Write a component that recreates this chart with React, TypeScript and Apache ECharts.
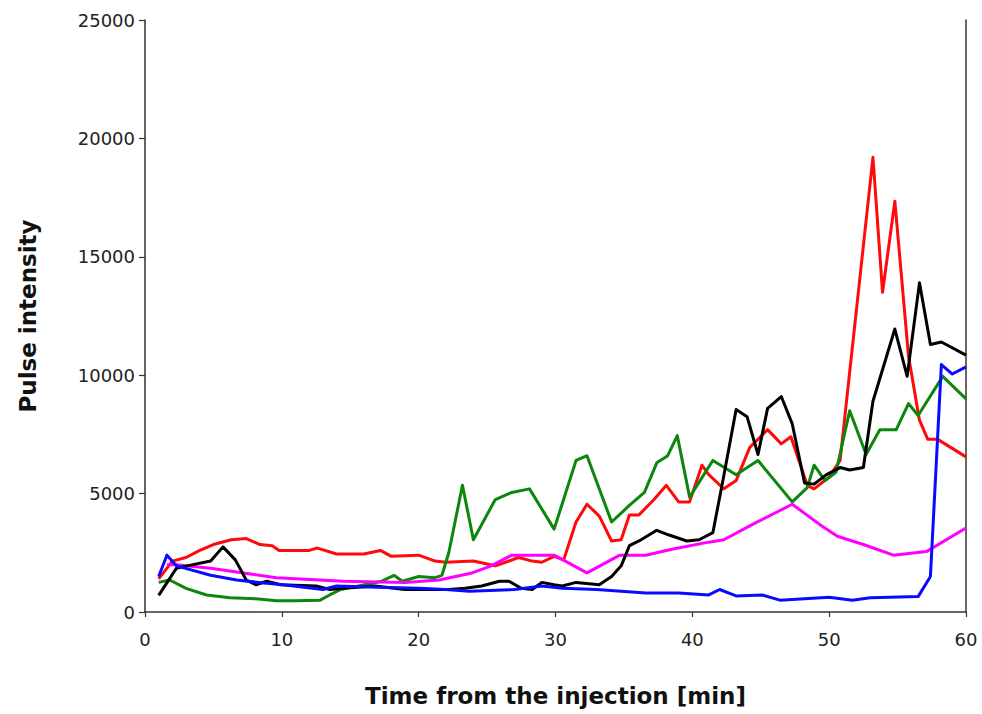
import React, { useEffect, useRef } from "react";
import * as echarts from "echarts";

const xTicks = [0, 10, 20, 30, 40, 50, 60];
const yTicks = [0, 5000, 10000, 15000, 20000, 25000];

const redSeries: [number, number][] = [
  [1, 1400], [2, 2150], [3, 2300], [4, 2600], [5, 2850], [6.3, 3050], [7.4, 3100], [8.4, 2850],
  [9.3, 2800], [9.8, 2600], [12, 2600], [12.6, 2700], [14, 2450], [16, 2450], [17.2, 2600],
  [18, 2350], [20, 2400], [21.2, 2150], [22, 2100], [24, 2150], [25.6, 1950], [27.3, 2300],
  [28.3, 2150], [29, 2100], [29.9, 2350], [30.6, 2200], [31.5, 3800], [32.3, 4550], [33.2, 4050],
  [34.1, 3000], [34.8, 3050], [35.4, 4100], [36.1, 4100], [37.2, 4750], [38.1, 5350], [39, 4650],
  [39.8, 4650], [40.7, 6200], [41.2, 5800], [42.3, 5200], [43.2, 5550], [44.2, 6950], [45.5, 7700],
  [46.5, 7100], [47.2, 7400], [48.4, 5350], [48.9, 5200], [50, 5700], [50.8, 6400], [53.2, 19200],
  [53.9, 13500], [54.8, 17350], [55.8, 10800], [56.6, 8100], [57.2, 7300], [57.9, 7300], [60, 6550],
];

const blackSeries: [number, number][] = [
  [1, 700], [2.3, 1850], [3.5, 2000], [4.8, 2150], [5.7, 2750], [6.6, 2200], [7.4, 1350], [8.1, 1150],
  [8.9, 1300], [9.9, 1150], [12.5, 1100], [13.5, 950], [14.5, 1000], [16.8, 1100], [19, 950],
  [22.2, 950], [23.4, 1000], [24.6, 1100], [25.9, 1300], [26.6, 1300], [27.5, 1000], [28.3, 950],
  [29, 1250], [29.9, 1150], [30.5, 1100], [31.5, 1250], [33.2, 1150], [34.1, 1500], [34.8, 1950],
  [35.4, 2800], [36.1, 3000], [37.4, 3450], [38.3, 3250], [39.6, 3000], [40.5, 3050], [41.5, 3350],
  [42.3, 5750], [43.2, 8550], [44, 8250], [44.8, 6650], [45.5, 8600], [46.5, 9100], [47.3, 7950],
  [48.2, 5450], [48.9, 5400], [49.8, 5800], [50.8, 6100], [51.5, 6000], [52.5, 6100], [53.2, 8900],
  [54.8, 11950], [55.7, 9950], [56.6, 13900], [57.4, 11300], [58.2, 11400], [60, 10850],
];

const greenSeries: [number, number][] = [
  [1, 1250], [1.8, 1350], [3, 1000], [4.5, 720], [6.2, 600], [8.3, 550], [9.6, 480], [11, 470],
  [12.8, 500], [13.5, 720], [14.3, 950], [15.6, 1100], [17.3, 1300], [18.2, 1550], [18.8, 1300],
  [20, 1500], [21.2, 1450], [21.7, 1550], [22.2, 2500], [23.2, 5350], [24, 3050], [25.6, 4750],
  [26.8, 5050], [28.1, 5200], [29.9, 3500], [31.5, 6400], [32.3, 6600], [34.1, 3800], [35.4, 4500],
  [36.5, 5050], [37.4, 6300], [38.2, 6600], [38.9, 7450], [39.8, 4850], [41.5, 6400], [43.2, 5800],
  [44.8, 6400], [47.3, 4650], [48.4, 5250], [48.9, 6200], [49.7, 5550], [50.5, 5900], [51.5, 8500],
  [52.7, 6650], [53.7, 7700], [54.9, 7700], [55.8, 8800], [56.5, 8300], [58.3, 9950], [60, 9000],
];

const blueSeries: [number, number][] = [
  [1, 1500], [1.6, 2400], [2.3, 1950], [4.8, 1550], [6.7, 1350], [8.3, 1250], [10.1, 1150], [13, 950],
  [14, 1100], [17, 1050], [20, 1000], [22, 950], [23.7, 880], [27, 950], [29, 1100], [30.5, 1000],
  [33, 950], [36.6, 800], [39, 800], [41.2, 720], [42, 950], [43.2, 680], [45.1, 720], [46.4, 500],
  [50, 620], [51.7, 500], [53, 600], [56.5, 650], [57.4, 1500], [58.2, 10450], [59, 10050], [60, 10350],
];

const magentaSeries: [number, number][] = [
  [1.6, 2000], [2.3, 2000], [4.8, 1850], [7.2, 1650], [9.6, 1450], [14.5, 1300], [19, 1250],
  [21.5, 1350], [23.9, 1650], [25.3, 1950], [26.8, 2400], [29.9, 2400], [32.3, 1650], [34.7, 2400],
  [36.6, 2400], [38.5, 2650], [41.2, 2950], [42.3, 3050], [44.4, 3700], [47.3, 4550], [49.3, 3700],
  [50.6, 3200], [52.5, 2850], [54.7, 2400], [57.1, 2550], [60, 3550],
];

const seriesDefs = [
  { name: "red", color: "#ff0a0a", data: redSeries },
  { name: "green", color: "#0b870b", data: greenSeries },
  { name: "magenta", color: "#ff00ff", data: magentaSeries },
  { name: "black", color: "#000000", data: blackSeries },
  { name: "blue", color: "#0a0aff", data: blueSeries },
];

export default function App() {
  const ref = useRef<HTMLDivElement>(null);
  useEffect(() => {
    if (!ref.current) return;
    const chart = echarts.init(ref.current, null, { renderer: "svg" });
    const axisFont = {
      fontFamily: "DejaVu Sans",
      fontSize: 18,
      color: "#222",
    };
    chart.setOption({
      animation: false,
      backgroundColor: "#ffffff",
      grid: { left: 145, right: 16, top: 20, bottom: 102, containLabel: false },
      xAxis: {
        type: "value",
        min: xTicks[0],
        max: xTicks[xTicks.length - 1],
        interval: 10,
        name: "Time from the injection [min]",
        nameLocation: "middle",
        nameGap: 72,
        nameTextStyle: { fontFamily: "DejaVu Sans", fontWeight: "bold", fontSize: 23, color: "#111" },
        axisLine: { show: true, onZero: false, lineStyle: { color: "#333", width: 1.5 } },
        axisTick: { show: true, inside: false, length: 5, lineStyle: { color: "#333", width: 1.2 } },
        axisLabel: { ...axisFont, margin: 18, formatter: (v: number) => String(v) },
        splitLine: { show: false },
      },
      yAxis: [
        {
          type: "value",
          min: yTicks[0],
          max: yTicks[yTicks.length - 1],
          interval: 5000,
          name: "Pulse intensity",
          nameLocation: "middle",
          nameGap: 106,
          nameTextStyle: { fontFamily: "DejaVu Sans", fontWeight: "bold", fontSize: 23, color: "#111" },
          axisLine: { show: true, lineStyle: { color: "#333", width: 1.5 } },
          axisTick: { show: true, inside: false, length: 6, lineStyle: { color: "#333", width: 1.2 } },
          axisLabel: { ...axisFont, margin: 10, formatter: (v: number) => String(v) },
          splitLine: { show: false },
        },
        {
          type: "value",
          position: "right",
          min: yTicks[0],
          max: yTicks[yTicks.length - 1],
          interval: 5000,
          axisLine: { show: true, lineStyle: { color: "#333", width: 1.5 } },
          axisTick: { show: false },
          axisLabel: { show: false },
          splitLine: { show: false },
        },
      ],
      series: seriesDefs.map((s) => ({
        name: s.name,
        type: "line",
        data: s.data,
        showSymbol: false,
        symbol: "none",
        smooth: false,
        lineStyle: { color: s.color, width: 3, join: "round" },
        itemStyle: { color: s.color },
      })),
    });
    return () => chart.dispose();
  }, []);
  return (
    <div
      ref={ref}
      style={{ position: "fixed", left: 0, top: 0, width: 982, height: 714, background: "#fff" }}
    />
  );
}
